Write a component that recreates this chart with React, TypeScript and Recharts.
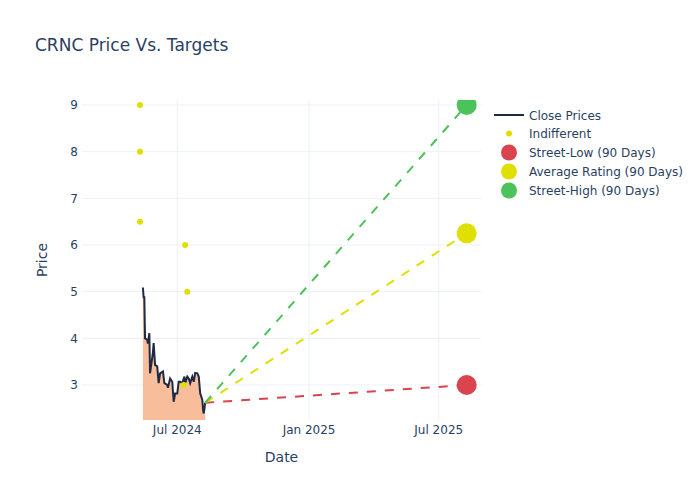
import React from 'react';
import { ComposedChart, Area, Line, Scatter, XAxis, YAxis, CartesianGrid } from 'recharts';

// ---- data ----
const closeDates = [
  '2024-05-14', '2024-05-15', '2024-05-16', '2024-05-17', '2024-05-20', '2024-05-21', '2024-05-23',
  '2024-05-24', '2024-05-28', '2024-05-29', '2024-05-31', '2024-06-03', '2024-06-05', '2024-06-07',
  '2024-06-11', '2024-06-13', '2024-06-17', '2024-06-18', '2024-06-21', '2024-06-24', '2024-06-26',
  '2024-06-28', '2024-07-01', '2024-07-03', '2024-07-05', '2024-07-08', '2024-07-10', '2024-07-11',
  '2024-07-12', '2024-07-15', '2024-07-17', '2024-07-19', '2024-07-22', '2024-07-24', '2024-07-26',
  '2024-07-29', '2024-07-31', '2024-08-02', '2024-08-05', '2024-08-06', '2024-08-07', '2024-08-09',
];
const closePrices = [
  5.09, 4.88, 4.88, 4.0, 3.97, 3.89, 4.11,
  3.25, 3.7, 3.9, 3.43, 3.4, 3.04, 3.25,
  3.29, 3.04, 3.0, 2.94, 3.14, 3.07, 2.64,
  2.82, 2.82, 3.07, 3.07, 3.04, 3.14, 3.18,
  3.04, 3.18, 3.14, 3.04, 3.18, 3.07, 3.26,
  3.25, 3.18, 2.82, 2.68, 2.46, 2.39, 2.62,
];
const indifferentDates = ['2024-05-10', '2024-05-10', '2024-05-10', '2024-07-12', '2024-07-15', '2024-07-10'];
const indifferentTargets = [9, 8, 6.5, 6, 5, 3];
const targetDate = '2025-08-09';
const streetLow = 3;
const averageRating = 6.25;
const streetHigh = 9;
const xTickDates = ['2024-07-01', '2025-01-01', '2025-07-01'];
const xTickLabels = ['Jul 2024', 'Jan 2025', 'Jul 2025'];
const yTicks = [3, 4, 5, 6, 7, 8, 9];
const xDomainDates = ['2024-02-19', '2025-08-29'];
const yDomain = [2.25, 9.107];

const legendLabels = ['Close Prices', 'Indifferent', 'Street-Low (90 Days)', 'Average Rating (90 Days)', 'Street-High (90 Days)'];

// ---- styles ----
const FONT = '"DejaVu Sans", "Open Sans", sans-serif';
const TEXT = '#2a3f5f';
const GRID = '#EBF0F8';
const CLOSE_COLOR = '#1f2a44';
const AREA_FILL = '#F8BE9B';
const YELLOW = '#DFDF00';
const RED = '#D9444F';
const GREEN = '#4CC25A';

const toTime = (d: string) => Date.parse(d + 'T00:00:00Z');

const lastIdx = closeDates.length - 1;
const mainData: any[] = closeDates.map((d, i) => ({
  t: toTime(d),
  close: closePrices[i],
  low: i === lastIdx ? closePrices[i] : null,
  avg: i === lastIdx ? closePrices[i] : null,
  high: i === lastIdx ? closePrices[i] : null,
}));
mainData.push({ t: toTime(targetDate), close: null, low: streetLow, avg: averageRating, high: streetHigh });

const indifferentData = indifferentDates.map((d, i) => ({ t: toTime(d), v: indifferentTargets[i] }));
const lowData = [{ t: toTime(targetDate), v: streetLow }];
const avgData = [{ t: toTime(targetDate), v: averageRating }];
const highData = [{ t: toTime(targetDate), v: streetHigh }];

const xTicks = xTickDates.map(toTime);
const xDomain = xDomainDates.map(toTime);

const fmtX = (v: number) => {
  const i = xTicks.indexOf(v);
  return i >= 0 ? xTickLabels[i] : '';
};

const dot = (r: number, color: string) => (props: any) => {
  const { cx, cy } = props;
  if (cx == null || cy == null) return <g />;
  return <circle cx={cx} cy={cy} r={r} fill={color} />;
};

const Legend = () => {
  const rowY = [115, 133.5, 152.5, 171.5, 190.5];
  const symX = 509;
  return (
    <svg width={700} height={500} style={{ position: 'absolute', left: 0, top: 0, pointerEvents: 'none' }}>
      <text x={35} y={51} fontFamily={FONT} fontSize={17} fill={TEXT}>CRNC Price Vs. Targets</text>
      <line x1={494} x2={524} y1={rowY[0]} y2={rowY[0]} stroke={CLOSE_COLOR} strokeWidth={2} />
      <circle cx={symX} cy={rowY[1]} r={3} fill={YELLOW} />
      <circle cx={symX} cy={rowY[2]} r={8} fill={RED} />
      <circle cx={symX} cy={rowY[3]} r={8} fill={YELLOW} />
      <circle cx={symX} cy={rowY[4]} r={8} fill={GREEN} />
      {legendLabels.map((l, i) => (
        <text key={l} x={529} y={rowY[i] + 4.5} fontFamily={FONT} fontSize={12} fill={TEXT}>{l}</text>
      ))}
    </svg>
  );
};

export default function App() {
  return (
    <div style={{ position: 'absolute', left: 0, top: 0, width: 700, height: 500, background: '#fff', fontFamily: FONT }}>
      <ComposedChart
        width={700}
        height={500}
        data={mainData}
        margin={{ top: 100, right: 219, bottom: 0, left: 0 }}
      >
        <CartesianGrid stroke={GRID} strokeWidth={1} horizontalValues={yTicks} verticalValues={xTicks} />
        <XAxis
          dataKey="t"
          type="number"
          domain={xDomain}
          allowDataOverflow
          ticks={xTicks}
          tickFormatter={fmtX}
          axisLine={false}
          tickLine={false}
          tickSize={0}
          tickMargin={5}
          height={80}
          tick={{ fill: TEXT, fontSize: 12, fontFamily: FONT }}
          label={{ value: 'Date', position: 'insideBottom', offset: 38, fill: TEXT, fontSize: 14, fontFamily: FONT }}
        />
        <YAxis
          type="number"
          domain={yDomain}
          allowDataOverflow
          ticks={yTicks}
          axisLine={false}
          tickLine={false}
          tickSize={0}
          tickMargin={4}
          width={82}
          tick={{ fill: TEXT, fontSize: 12, fontFamily: FONT }}
          label={{ value: 'Price', angle: -90, position: 'insideLeft', offset: 42, fill: TEXT, fontSize: 14, fontFamily: FONT, style: { textAnchor: 'middle' } }}
        />
        <Area
          dataKey="close"
          type="linear"
          stroke={CLOSE_COLOR}
          strokeWidth={2}
          fill={AREA_FILL}
          fillOpacity={1}
          baseValue={yDomain[0]}
          dot={false}
          activeDot={false}
          isAnimationActive={false}
        />
        <Line dataKey="low" type="linear" stroke={RED} strokeWidth={2} strokeDasharray="9 9" dot={false} activeDot={false} connectNulls isAnimationActive={false} />
        <Line dataKey="avg" type="linear" stroke={YELLOW} strokeWidth={2} strokeDasharray="9 9" dot={false} activeDot={false} connectNulls isAnimationActive={false} />
        <Line dataKey="high" type="linear" stroke={GREEN} strokeWidth={2} strokeDasharray="9 9" dot={false} activeDot={false} connectNulls isAnimationActive={false} />
        <Scatter data={indifferentData} dataKey="v" shape={dot(3, YELLOW)} isAnimationActive={false} />
        <Scatter data={lowData} dataKey="v" shape={dot(10, RED)} isAnimationActive={false} />
        <Scatter data={avgData} dataKey="v" shape={dot(10, YELLOW)} isAnimationActive={false} />
        <Scatter data={highData} dataKey="v" shape={dot(10, GREEN)} isAnimationActive={false} />
      </ComposedChart>
      <Legend />
    </div>
  );
}
